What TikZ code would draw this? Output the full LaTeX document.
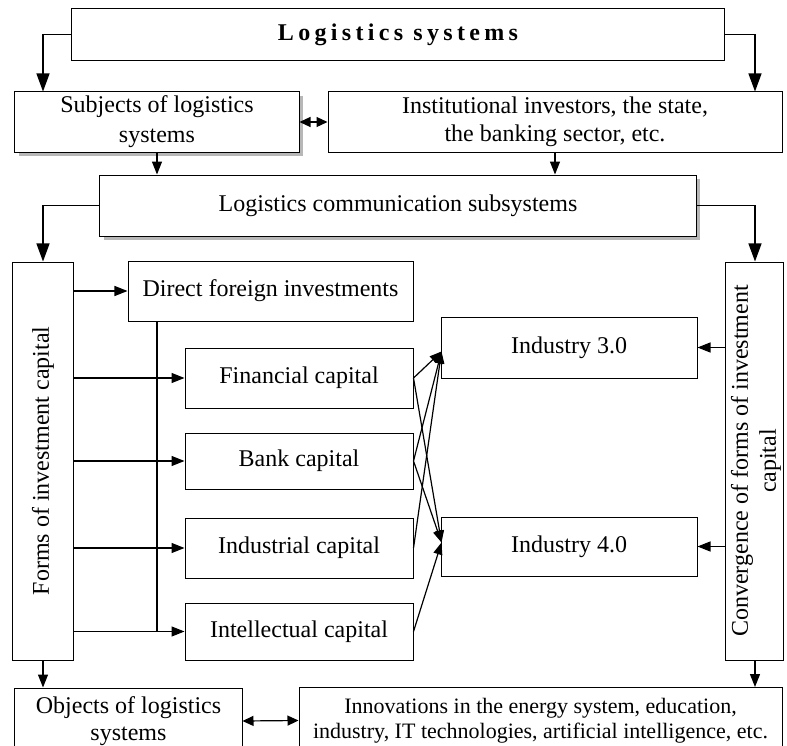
\documentclass[tikz,border=0pt]{standalone}
\usepackage{fontspec}
\setmainfont{Liberation Serif}
\newfontfamily\spacedfont[LetterSpace=18]{Liberation Serif}
\usetikzlibrary{arrows.meta,shadows,calc}
\begin{document}
\begin{tikzpicture}[x=1bp,y=-1bp,
  box/.style={draw, line width=1bp, inner sep=0pt, align=center, fill=white,
    font=\fontsize{24bp}{30bp}\selectfont},
  sz/.style 2 args={minimum width=#1bp, minimum height=#2bp},
  shad/.style={drop shadow={shadow xshift=4bp, shadow yshift=-4bp, fill=black!40, opacity=0.7}},
  txt/.style={inner sep=0pt, align=center, font=\fontsize{24bp}{28bp}\selectfont},
  ln/.style={line width=1.2bp},
  arrbig/.style={ln, -{Triangle[length=18bp,width=13bp]}},
  arrmid/.style={ln, -{Triangle[length=13bp,width=10bp]}},
  arrsm/.style={ln, -{Triangle[length=12bp,width=9bp]}},
  arrdbl/.style={ln, {Triangle[length=11bp,width=10bp]}-{Triangle[length=11bp,width=10bp]}}
]
\useasboundingbox (0,0) rectangle (787,746);
\clip (0,0) rectangle (787,746);
\fill[white] (0,0) rectangle (787,746);

\coordinate (lx) at (43,0);
\coordinate (rx) at (755,0);
\coordinate (vx) at (157,0);

\node[box, sz={652}{51}] (top) at (398,34.5) {\spacedfont\bfseries Logistics\ systems};
\node[box, shad, sz={284}{60}] (subj) at (157,122) {Subjects of logistics\\systems};
\node[box, sz={454}{60}, font=\fontsize{24bp}{28bp}\selectfont] (inst) at (555,122) {Institutional investors, the state,\\the banking sector, etc.};
\node[box, shad, sz={596}{61}] (lcs) at (398,205.5) {Logistics communication subsystems};

\node[box, sz={60}{398}] (forms) at (43,461) {};
\node[txt, rotate=90] (formstxt) at (forms.center) {Forms of investment capital};
\node[box, sz={58}{398}] (conv) at (754,461) {};
\node[txt, rotate=90] (convtxt) at (756,461) {Convergence of forms of investment\\capital};

\node[box, sz={285}{60}] (dfi) at (270.5,291) {Direct foreign investments};
\node[box, sz={228}{60}] (fin) at (299,378) {Financial capital};
\node[box, sz={228}{56}] (bank) at (299,461) {Bank capital};
\node[box, sz={228}{60}] (ind) at (299,548) {Industrial capital};
\node[box, sz={228}{57}] (intel) at (299,631.5) {Intellectual capital};

\node[box, sz={256}{61}] (i3) at (569,347.5) {Industry 3.0};
\node[box, sz={256}{59}] (i4) at (569,546.5) {Industry 4.0};

\node[box, sz={227}{66}, font=\fontsize{24bp}{27bp}\selectfont] (obj) at (128.5,721) {Objects of logistics\\systems};
\node[box, sz={483}{66}, font=\fontsize{22bp}{25bp}\selectfont] (inn) at (540.5,720.5) {Innovations in the energy system, education,\\industry, IT technologies, artificial intelligence, etc.};

% connectors
\draw[arrbig] (top.west) -| (lx |- subj.north);
\draw[arrbig] (top.east) -| (rx |- inst.north);
\draw[arrdbl] (subj.east) -- (inst.west);
\draw[arrmid] (subj.south) -- (subj.south |- lcs.north);
\draw[arrmid] (inst.south) -- (inst.south |- lcs.north);
\draw[arrbig] (lcs.west) -| (lx |- forms.north);
\draw[arrbig] (lcs.east) -| (rx |- conv.north);

\foreach \n in {dfi,fin,bank,ind,intel}
  \draw[arrmid] (forms.east |- \n.west) -- (\n.west);
\draw[ln] (vx |- dfi.south) -- (vx |- intel.west);

\draw[arrmid] (conv.west |- i3.east) -- (i3.east);
\draw[arrmid] (conv.west |- i4.east) -- (i4.east);

\coordinate (t3) at ($(i3.west)+(1,4)$);
\coordinate (t4) at ($(i4.west)+(1,-4)$);
\draw[arrsm] (fin.east) -- (t3);
\draw[arrsm] (fin.east) -- (t4);
\draw[arrsm] (bank.east) -- (t3);
\draw[arrsm] (bank.east) -- (t4);
\draw[arrsm] (ind.east) -- (t3);
\draw[arrsm] (intel.east) -- (t4);

\draw[arrmid] (forms.south -| lx) -- (lx |- obj.north);
\draw[arrmid] (conv.south -| rx) -- (rx |- inn.north);
\draw[arrdbl] (obj.east) -- (inn.west);
\end{tikzpicture}
\end{document}
